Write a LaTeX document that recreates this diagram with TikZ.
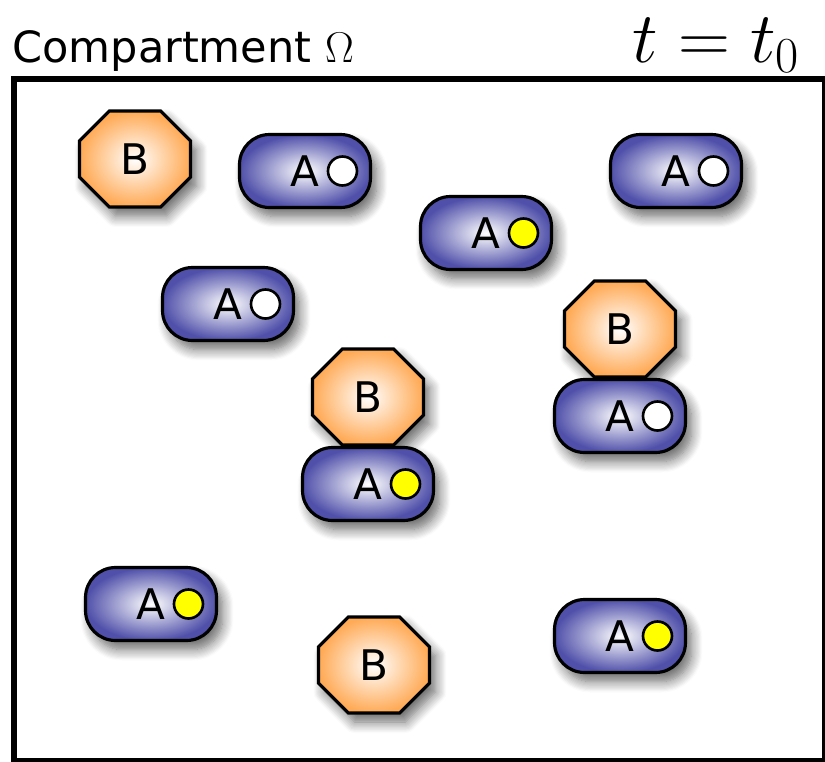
\documentclass[tikz,border=0pt]{standalone}
\usepackage{fix-cm}
\usepackage{fontspec}
\newfontfamily\molfont{DejaVu Sans}
\usepackage{xcolor}
\definecolor{molBlue}{HTML}{5050AA}
\definecolor{molOrange}{HTML}{FFAA55}
\definecolor{siteYellow}{HTML}{FFFF00}
\usepackage{tikz}
\usetikzlibrary{
    shapes.misc,
    shadows.blur
}
\tikzset{
    % Soft drop shadow under every molecule
    mol shadow/.style={
        blur shadow={
            shadow xshift=0.12cm,
            shadow yshift=-0.18cm,
            shadow blur radius=0.22cm,
            shadow blur steps=10,
            shadow opacity=60
        },
    },
    % Molecule A - blue capsule
    molA/.style={
        rectangle,
        rounded corners=0.6cm,
        minimum width=2.62cm,
        minimum height=1.46cm,
        draw=black,
        line width=1.8pt,
        inner color=white,
        outer color=molBlue,
        mol shadow,
        font=\molfont\fontsize{24}{28}\selectfont,
    },
    % Molecule B - orange octagon
    molB/.style={
        chamfered rectangle,
        chamfered rectangle xsep=0.55cm,
        chamfered rectangle ysep=0.53cm,
        inner sep=0pt,
        minimum width=2.22cm,
        minimum height=1.92cm,
        draw=black,
        line width=1.8pt,
        inner color=white,
        outer color=molOrange,
        mol shadow,
        font=\molfont\fontsize{24}{28}\selectfont,
    },
    % Binding site on A
    site/.style={
        circle,
        draw=black,
        line width=1.5pt,
        minimum size=0.58cm,
        inner sep=0pt,
    },
    siteFree/.style={site, fill=white},
    siteBound/.style={site, fill=siteYellow},
}

\begin{document}
\begin{tikzpicture}[x=0.02cm, y=-0.02cm]
    \useasboundingbox (0,0) rectangle (825,761);
    % compartment
    \draw [line width=0.12cm] (14,79) rectangle (825,761);
    \node (title) [anchor=base west, inner sep=0pt, font=\molfont\fontsize{24.5}{29}\selectfont] at (12,62) {Compartment $\Omega$};
    \node (time) [anchor=base east, inner sep=0pt, font=\fontsize{41}{46}\selectfont] at (800,62) {$t=t_0$};

    % B molecules
    \node (b1) [molB] at (135,159) {B};
    \node (b2) [molB] at (620,329) {B};
    \node (b3) [molB] at (368,397) {B};
    \node (b4) [molB] at (374,665) {B};

    % A molecules with their sites
    \node (a1) [molA] at (305,171) {A};
    \node (a1s) [siteFree] at ([xshift=0.75cm]a1.center) {};
    \node (a2) [molA] at (676,171) {A};
    \node (a2s) [siteFree] at ([xshift=0.75cm]a2.center) {};
    \node (a3) [molA] at (486,233) {A};
    \node (a3s) [siteBound] at ([xshift=0.75cm]a3.center) {};
    \node (a4) [molA] at (228,304) {A};
    \node (a4s) [siteFree] at ([xshift=0.75cm]a4.center) {};
    \node (a5) [molA] at (368,484) {A};
    \node (a5s) [siteBound] at ([xshift=0.75cm]a5.center) {};
    \node (a6) [molA] at (620,416) {A};
    \node (a6s) [siteFree] at ([xshift=0.75cm]a6.center) {};
    \node (a7) [molA] at (151,604) {A};
    \node (a7s) [siteBound] at ([xshift=0.75cm]a7.center) {};
    \node (a8) [molA] at (620,636) {A};
    \node (a8s) [siteBound] at ([xshift=0.75cm]a8.center) {};
\end{tikzpicture}
\end{document}
